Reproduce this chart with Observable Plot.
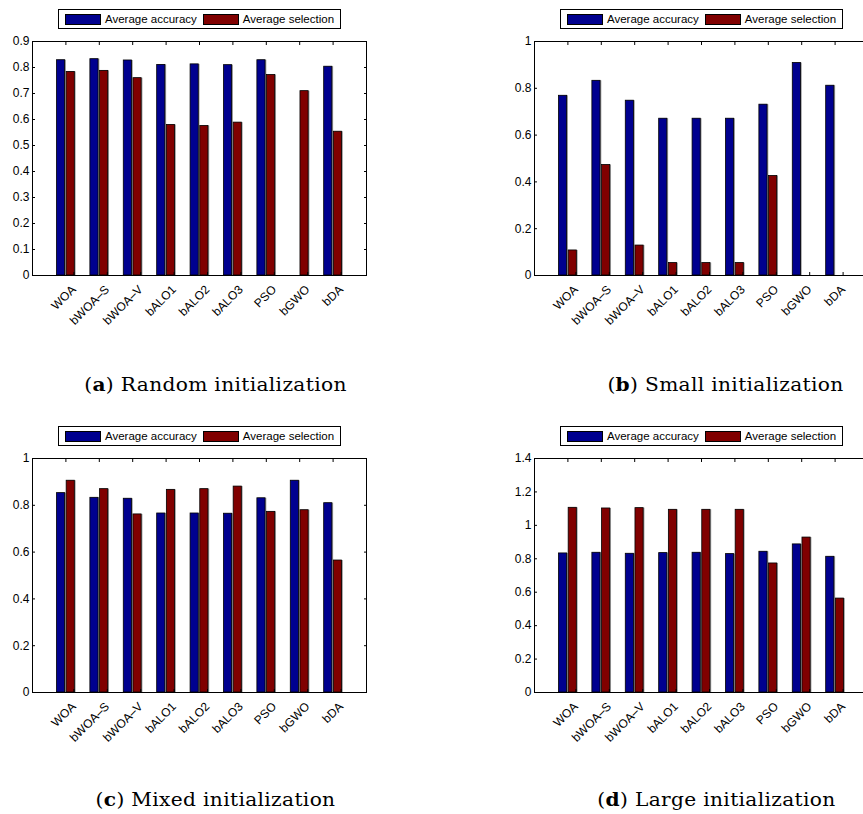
<!DOCTYPE html>
<html>
<head>
<meta charset="utf-8">
<script src="https://cdn.jsdelivr.net/npm/d3@7"></script>
<script src="https://cdn.jsdelivr.net/npm/@observablehq/plot@0.6"></script>
<style>
  html, body { margin: 0; padding: 0; background: #fff; }
  body { position: relative; width: 863px; height: 814px; overflow: hidden; font-family: "Liberation Sans", Arial, sans-serif; }
  .panel { position: absolute; }
  .panel svg { overflow: visible; max-width: none !important; }
  .legend { position: absolute; box-sizing: border-box; width: 283px; height: 20px; border: 1px solid #000;
            background: #fff; display: flex; align-items: center; padding-left: 6px; font-size: 11.5px; color: #000; white-space: nowrap; }
  .legend .sw { width: 36px; height: 11px; border: 1px solid #000; box-sizing: border-box; margin-right: 4px; flex: none; }
  .legend .item { display: flex; align-items: center; margin-right: 6px; }
  .caption { position: absolute; width: 431px; text-align: center; font-family: "DejaVu Serif", "Liberation Serif", serif;
             font-size: 18px; letter-spacing: 0.3px; color: #000; white-space: nowrap; transform: scaleX(1.12); transform-origin: 50% 50%; }
</style>
</head>
<body>
<script>
// Algorithms compared in every panel
const algorithms = ["WOA", "bWOA–S", "bWOA–V", "bALO1", "bALO2", "bALO3", "PSO", "bGWO", "bDA"];
const seriesNames = ["Average accuracy", "Average selection"];
const seriesColors = ["#00008f", "#800000"];

// (a) Random initialization
const randomAccuracy  = [0.828, 0.832, 0.827, 0.810, 0.812, 0.809, 0.828, 0.000, 0.803];
const randomSelection = [0.783, 0.787, 0.759, 0.579, 0.575, 0.588, 0.771, 0.709, 0.553];
// (b) Small initialization
const smallAccuracy   = [0.768, 0.832, 0.747, 0.670, 0.670, 0.670, 0.730, 0.908, 0.811];
const smallSelection  = [0.107, 0.472, 0.128, 0.053, 0.053, 0.053, 0.425, 0.000, 0.000];
// (c) Mixed initialization
const mixedAccuracy   = [0.852, 0.832, 0.828, 0.765, 0.765, 0.764, 0.830, 0.905, 0.809];
const mixedSelection  = [0.905, 0.869, 0.761, 0.866, 0.869, 0.880, 0.772, 0.779, 0.564];
// (d) Large initialization
const largeAccuracy   = [0.832, 0.836, 0.830, 0.834, 0.836, 0.828, 0.842, 0.886, 0.812];
const largeSelection  = [1.105, 1.101, 1.103, 1.093, 1.093, 1.093, 0.772, 0.927, 0.562];

// y-axis tick values per panel
const ticksRandom = [0, 0.1, 0.2, 0.3, 0.4, 0.5, 0.6, 0.7, 0.8, 0.9];
const ticksSmall  = [0, 0.2, 0.4, 0.6, 0.8, 1];
const ticksMixed  = [0, 0.2, 0.4, 0.6, 0.8, 1];
const ticksLarge  = [0, 0.2, 0.4, 0.6, 0.8, 1, 1.2, 1.4];

// caption letter and text per panel
const captionLetters = ["a", "b", "c", "d"];
const captionTexts = ["Random initialization", "Small initialization", "Mixed initialization", "Large initialization"];

const fmt = d => String(+d.toFixed(2));
const positions = d3.range(1, algorithms.length + 1);
const barHalf = 0.122;   // half bar width, in category units
const barShift = 0.145;  // offset of each bar from the category centre

function chart(accuracy, selection, yTicks, marginLeft, width) {
  const rows = algorithms.flatMap((name, i) => [
    {name, pos: i + 1, series: seriesNames[0], value: accuracy[i], shift: -barShift},
    {name, pos: i + 1, series: seriesNames[1], value: selection[i], shift: barShift}
  ]);
  const x1 = d => d.pos + d.shift - barHalf;
  const x2 = d => d.pos + d.shift + barHalf;
  return Plot.plot({
    width, height: 330,
    marginLeft, marginRight: width - marginLeft - 334, marginTop: 41, marginBottom: 55,
    x: {domain: [0, algorithms.length + 1]},
    y: {domain: [0, yTicks[yTicks.length - 1]]},
    color: {domain: seriesNames, range: seriesColors},
    style: {fontFamily: "'Liberation Sans', Arial, sans-serif", fontSize: "12px", color: "#000", background: "transparent"},
    marks: [
      // soft grey edge to the right of each bar
      Plot.rect(rows, {x1, x2, y1: 0, y2: "value", fill: "#9a9a9a", dx: 1.3}),
      Plot.rect(rows, {x1, x2, y1: 0, y2: "value", fill: "series", stroke: "#000", strokeWidth: 0.8}),
      Plot.frame({stroke: "#000", strokeWidth: 1}),
      Plot.axisY({ticks: yTicks, tickSize: -3, tickPadding: 6, tickFormat: fmt, label: null}),
      Plot.axisY({anchor: "right", ticks: yTicks, tickSize: -3, tickFormat: () => "", label: null}),
      Plot.axisX({ticks: positions, tickSize: -3, tickPadding: 15, tickRotate: -45,
                  tickFormat: p => algorithms[p - 1], label: null, dx: 8}),
      Plot.axisX({anchor: "top", ticks: positions, tickSize: -3, tickFormat: () => "", label: null})
    ]
  });
}

const panels = [
  {acc: randomAccuracy, sel: randomSelection, ticks: ticksRandom, left: 0,   top: 0,   ml: 32,  w: 431, legendLeft: 58,  capX: 0,   capY: 374},
  {acc: smallAccuracy,  sel: smallSelection,  ticks: ticksSmall,  left: 431, top: 0,   ml: 103, w: 447, legendLeft: 560, capX: 510, capY: 374},
  {acc: mixedAccuracy,  sel: mixedSelection,  ticks: ticksMixed,  left: 0,   top: 417, ml: 32,  w: 431, legendLeft: 58,  capX: 0,   capY: 789},
  {acc: largeAccuracy,  sel: largeSelection,  ticks: ticksLarge,  left: 431, top: 417, ml: 103, w: 447, legendLeft: 560, capX: 501, capY: 789}
];

panels.forEach((p, k) => {
  const holder = document.createElement("div");
  holder.className = "panel";
  holder.style.left = p.left + "px";
  holder.style.top = p.top + "px";
  holder.style.width = p.w + "px";
  holder.appendChild(chart(p.acc, p.sel, p.ticks, p.ml, p.w));
  document.body.appendChild(holder);

  const legend = document.createElement("div");
  legend.className = "legend";
  legend.style.left = p.legendLeft + "px";
  legend.style.top = (p.top + 9) + "px";
  seriesNames.forEach((name, j) => {
    const item = document.createElement("div");
    item.className = "item";
    const sw = document.createElement("span");
    sw.className = "sw";
    sw.style.background = seriesColors[j];
    const label = document.createElement("span");
    label.textContent = name;
    item.append(sw, label);
    legend.appendChild(item);
  });
  document.body.appendChild(legend);

  const cap = document.createElement("div");
  cap.className = "caption";
  cap.style.left = p.capX + "px";
  cap.style.top = p.capY + "px";
  const b = document.createElement("b");
  b.textContent = captionLetters[k];
  cap.append("(", b, ") " + captionTexts[k]);
  document.body.appendChild(cap);
});
</script>
</body>
</html>
